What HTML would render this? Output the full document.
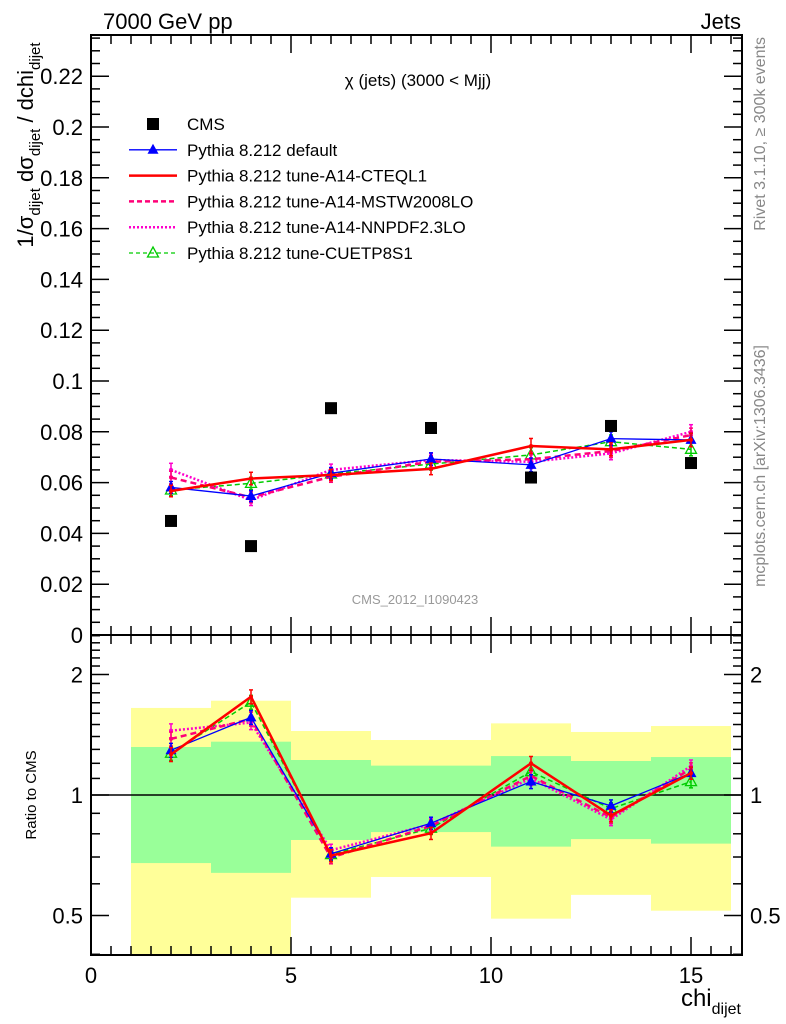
<!DOCTYPE html>
<html><head><meta charset="utf-8"><style>
html,body{margin:0;padding:0;background:#fff;}
svg{display:block;font-family:"Liberation Sans",sans-serif;}
</style></head><body>
<svg id="chart" width="786" height="1024" viewBox="0 0 786 1024">
<text x="103" y="29" font-size="22">7000 GeV pp</text>
<text x="741" y="29" font-size="22" text-anchor="end">Jets</text>
<text x="418" y="86" font-size="17" text-anchor="middle">χ (jets) (3000 &lt; Mjj)</text>
<text x="415" y="604" font-size="13" fill="#999" text-anchor="middle">CMS_2012_I1090423</text>
<text transform="translate(765,37) rotate(-90)" font-size="16" fill="#888" text-anchor="end">Rivet 3.1.10, ≥ 300k events</text>
<text transform="translate(765,345) rotate(-90)" font-size="16" fill="#888" text-anchor="end">mcplots.cern.ch [arXiv:1306.3436]</text>
<text transform="translate(33,145) rotate(-90)" font-size="22" text-anchor="middle">1/σ<tspan font-size="15" dy="7">dijet</tspan><tspan dy="-7"> dσ</tspan><tspan font-size="15" dy="7">dijet</tspan><tspan dy="-7"> / dchi</tspan><tspan font-size="15" dy="7">dijet</tspan></text>
<text transform="translate(36,795) rotate(-90)" font-size="15" text-anchor="middle">Ratio to CMS</text>
<text x="741" y="1006" font-size="24" text-anchor="end">chi<tspan font-size="16" dy="8">dijet</tspan></text>
<g id="bands"></g><g id="axes"></g><g id="series"></g><g id="legend"></g>
</svg>
<script>
const xs = [2, 4, 6, 8.5, 11, 13, 15];
const binLo = [1, 3, 5, 7, 10, 12, 14];
const binHi = [3, 5, 7, 10, 12, 14, 16];
const cms = [0.0449, 0.035, 0.0893, 0.0815, 0.062, 0.0823, 0.0677];
const yellowUp = [1.65, 1.72, 1.445, 1.372, 1.51, 1.437, 1.487];
const yellowDn = [0.3, 0.3, 0.554, 0.624, 0.491, 0.563, 0.514];
const greenUp = [1.318, 1.359, 1.223, 1.184, 1.251, 1.216, 1.244];
const greenDn = [0.676, 0.639, 0.772, 0.808, 0.743, 0.776, 0.756];
const pyDefault = [0.0581, 0.0547, 0.0637, 0.0693, 0.067, 0.0773, 0.0768];
const pyCteq = [0.0567, 0.0616, 0.063, 0.0654, 0.0744, 0.0731, 0.0768];
const pyMstw = [0.062, 0.0542, 0.0623, 0.0682, 0.0692, 0.0724, 0.0787];
const pyNnpdf = [0.065, 0.0531, 0.065, 0.0689, 0.0682, 0.0715, 0.080];
const pyCuetp = [0.0571, 0.0597, 0.0634, 0.0673, 0.0709, 0.0761, 0.0731];
const relErr = [0.04, 0.04, 0.035, 0.035, 0.04, 0.035, 0.035];
const yTicks = [0, 0.02, 0.04, 0.06, 0.08, 0.1, 0.12, 0.14, 0.16, 0.18, 0.2, 0.22];
const yTickLabels = ["0","0.02","0.04","0.06","0.08","0.1","0.12","0.14","0.16","0.18","0.2","0.22"];
const xTicks = [0, 5, 10, 15];
const xTickLabels = ["0","5","10","15"];
const rTicks = [0.5, 1, 2];
const rTickLabels = ["0.5","1","2"];

const L=91, R=742, T=35, MB=635, RB=955;
const X = v => L + v*40;
const Y = v => MB - v*2540;
const RY = r => 795 - Math.log2(r)*120.5;
const NS="http://www.w3.org/2000/svg";
function mk(tag, attrs, parent){const e=document.createElementNS(NS,tag);for(const k in attrs)e.setAttribute(k,attrs[k]);parent.appendChild(e);return e;}
const gB=document.getElementById('bands'), gA=document.getElementById('axes'), gS=document.getElementById('series'), gL=document.getElementById('legend');
const clampR = r => Math.min(Math.max(RY(r),T+600),RB);

for(let i=0;i<binLo.length;i++){
  let e=mk('rect',{x:X(binLo[i]),y:clampR(yellowUp[i]),width:X(binHi[i])-X(binLo[i]),height:clampR(yellowDn[i])-clampR(yellowUp[i]),fill:'#ffff99'},gB);
  
  
  e=mk('rect',{x:X(binLo[i]),y:RY(greenUp[i]),width:X(binHi[i])-X(binLo[i]),height:RY(greenDn[i])-RY(greenUp[i]),fill:'#99ff99'},gB);
  
  
}
let ref=mk('line',{x1:L,x2:R,y1:RY(1),y2:RY(1),stroke:'#000','stroke-width':1.5},gB);



// frames
let f=mk('rect',{x:L,y:T,width:R-L,height:MB-T,fill:'none',stroke:'#000','stroke-width':2},gA);


f=mk('rect',{x:L,y:MB,width:R-L,height:RB-MB,fill:'none',stroke:'#000','stroke-width':2},gA);


function tick(x1,y1,x2,y2){mk('line',{x1,y1,x2,y2,stroke:'#000','stroke-width':1.5},gA);}
// main y ticks
for(let v=0; v<=0.236; v+=0.005){const y=Y(v); const maj=Math.abs(v/0.02-Math.round(v/0.02))<1e-6; const len=maj?18:9; tick(L,y,L+len,y); tick(R,y,R-len,y);}
yTicks.forEach((v,i)=>{const t=mk('text',{x:L-8,y:Y(v)+8,'font-size':22,'text-anchor':'end'},gA);t.textContent=yTickLabels[i];

});
// x ticks
for(let v=0; v<=16.3; v+=0.5){const x=X(v); const maj=Math.abs(v%5)<1e-6; const len=maj?18:9;
  tick(x,T,x,T+len); tick(x,MB,x,MB-len); tick(x,MB,x,MB+len); tick(x,RB,x,RB-len);}
xTicks.forEach((v,i)=>{const t=mk('text',{x:X(v),y:983,'font-size':22,'text-anchor':'middle'},gA);t.textContent=xTickLabels[i];

});
// ratio ticks
for(let k=4;k<=25;k++){const r=k/10; const y=RY(r); if(y<MB||y>RB) continue; const maj=(k===5||k===10||k===20); const len=maj?18:9; tick(L,y,L+len,y); tick(R,y,R-len,y);}
rTicks.forEach((v,i)=>{let t=mk('text',{x:L-8,y:RY(v)+8,'font-size':22,'text-anchor':'end'},gA);t.textContent=rTickLabels[i];


t=mk('text',{x:R+8,y:RY(v)+8,'font-size':22},gA);t.textContent=rTickLabels[i];

});

const series=[
 {name:'pythia-cuetp8s1',vals:pyCuetp,color:'#00cc00',w:1.5,dash:'5,3',marker:'opentri'},
 {name:'pythia-nnpdf',vals:pyNnpdf,color:'#ff00cc',w:2.5,dash:'2,2',marker:'dot'},
 {name:'pythia-mstw',vals:pyMstw,color:'#ff0077',w:2.5,dash:'6,4',marker:'dot'},
 {name:'pythia-default',vals:pyDefault,color:'#0000ff',w:1.3,dash:'',marker:'tri'},
 {name:'pythia-cteql1',vals:pyCteq,color:'#ff0000',w:2.5,dash:'',marker:'dot'}
];
function drawMarker(g,type,x,y,c){
  if(type==='tri') mk('path',{d:`M${x} ${y-6}L${x+5.5} ${y+4}L${x-5.5} ${y+4}Z`,fill:c},g);
  else if(type==='opentri') mk('path',{d:`M${x} ${y-6}L${x+5.5} ${y+4}L${x-5.5} ${y+4}Z`,fill:'none',stroke:c,'stroke-width':1.3},g);
  else mk('circle',{cx:x,cy:y,r:2,fill:c},g);
}
series.forEach(s=>{
  [['main',Y,v=>v],['ratio',RY,null]].forEach(([pane,fy])=>{
    const g=mk('g',{},gS);
    
    
    const val=i=> pane==='main'? s.vals[i] : s.vals[i]/cms[i];
    const pts=xs.map((x,i)=>X(x)+','+fy(val(i))).join(' ');
    mk('polyline',{points:pts,fill:'none',stroke:s.color,'stroke-width':s.w,'stroke-dasharray':s.dash},g);
    xs.forEach((x,i)=>{const v=val(i),e=v*relErr[i];const y1=fy(v+e),y2=fy(v-e),px=X(x);
      mk('line',{x1:px,x2:px,y1,y2,stroke:s.color,'stroke-width':1.5},g);
      mk('line',{x1:px-2,x2:px+2,y1,y2:y1,stroke:s.color,'stroke-width':1.5},g);
      mk('line',{x1:px-2,x2:px+2,y1:y2,y2,stroke:s.color,'stroke-width':1.5},g);
      drawMarker(g,s.marker,px,fy(v),s.color);});
  });
});
xs.forEach((x,i)=>{const r=mk('rect',{x:X(x)-6,y:Y(cms[i])-6,width:12,height:12,fill:'#000'},gS);
  
  });

// legend
const leg=[
 {t:'CMS',c:'#000',dash:'',m:'sq',w:0},
 {t:'Pythia 8.212 default',c:'#0000ff',dash:'',m:'tri',w:1.3},
 {t:'Pythia 8.212 tune-A14-CTEQL1',c:'#ff0000',dash:'',m:'',w:2.5},
 {t:'Pythia 8.212 tune-A14-MSTW2008LO',c:'#ff0077',dash:'5,3',m:'',w:2.5},
 {t:'Pythia 8.212 tune-A14-NNPDF2.3LO',c:'#ff00cc',dash:'2,2',m:'',w:2.5},
 {t:'Pythia 8.212 tune-CUETP8S1',c:'#00cc00',dash:'4,3',m:'opentri',w:1.3}
];
leg.forEach((l,i)=>{const y=124+i*25.8;const g=mk('g',{},gL);
  
  
  if(l.w) mk('line',{x1:129,x2:177,y1:y,y2:y,stroke:l.c,'stroke-width':l.w,'stroke-dasharray':l.dash},g);
  if(l.m==='sq') mk('rect',{x:147,y:y-6,width:12,height:12,fill:'#000'},g);
  else if(l.m) drawMarker(g,l.m,153,y,l.c);
  const t=mk('text',{x:187,y:y+6,'font-size':17},g);t.textContent=l.t;});
</script>
</body></html>
